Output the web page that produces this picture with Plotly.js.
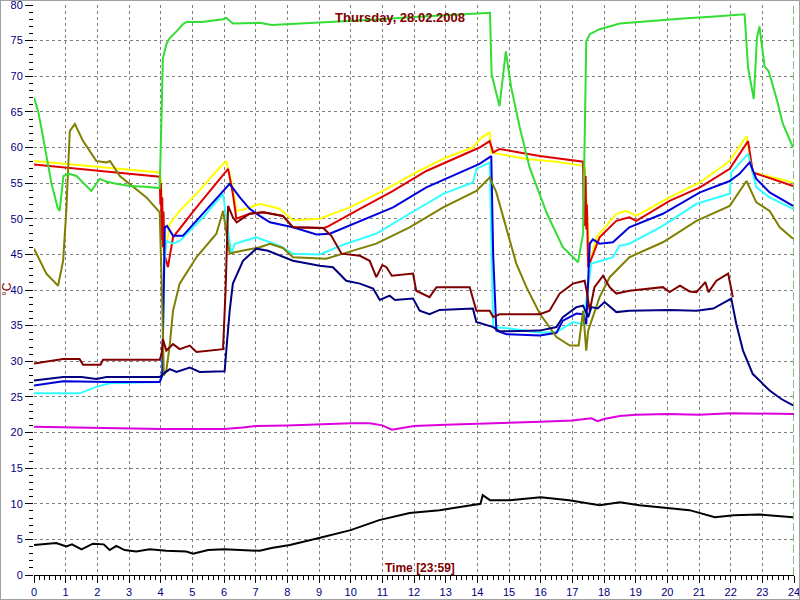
<!DOCTYPE html>
<html>
<head>
<meta charset="utf-8">
<script src="https://cdn.plot.ly/plotly-3.0.1.min.js"></script>
<style>
  html, body { margin: 0; padding: 0; background: #ffffff; }
  #wrap { position: relative; width: 800px; height: 600px; }
  #chart { width: 800px; height: 600px; }
  #frame { position: absolute; left: 0; top: 0; width: 798px; height: 598px; border: 1px solid #a0a0a0; pointer-events: none; }
</style>
</head>
<body>
<div id="wrap"><div id="chart"></div><div id="frame"></div></div>
<script>
// ---- chart texts ----
const chartTitle = 'Thursday, 28.02.2008';
const xTitle = 'Time [23:59]';
const yTitle = '°C';
const xTickVals = [0,1,2,3,4,5,6,7,8,9,10,11,12,13,14,15,16,17,18,19,20,21,22,23,24];
const yTickVals = [0,5,10,15,20,25,30,35,40,45,50,55,60,65,70,75,80];
const currentTime = 24;

// ---- series (time in hours, value in °C) ----
const yellowT = [0,1,2,3,3.97,4.02,4.05,4.12,4.29,4.6,5.13,5.76,6.07,6.28,6.39,6.7,7.13,7.76,8.18,9.02,9.97,11.02,12.07,13.02,13.86,14.13,14.39,14.44,14.7,15.55,16.5,17.34,17.39,17.55,17.76,18.39,18.7,19.02,20.07,21.03,21.97,22.5,22.7,23.97];
const yellowV = [58.1,57.7,57.3,56.9,56.5,55,47,44.6,49.3,51.1,53.5,56.7,58.1,54.4,51.1,51.4,52.1,51.4,49.8,50,51.6,53.9,56.5,58.6,60,61.4,62.1,59.3,59.1,58.4,58,57.5,57.4,43.7,47.4,50.7,51.1,50.4,53,55.1,58.1,61.6,56.5,55.1];

const redT = [0,1,2,3,3.97,3.99,4.01,4.03,4.05,4.07,4.09,4.12,4.23,4.39,5.13,5.76,6.13,6.28,6.39,6.81,7.24,7.86,8.18,9.13,9.23,10.29,11.34,12.39,13.44,14.07,14.39,14.44,14.5,14.7,15.97,17.34,17.36,17.38,17.4,17.42,17.44,17.46,17.5,17.86,18.39,18.8,19.02,20.07,21.03,21.97,22.55,22.7,23.97];
const redV = [57.6,57.2,56.8,56.3,55.9,52,55,47,53,46,51,45,43.2,47.4,51.6,55.1,57,53.5,50,50.7,50.9,50.4,48.8,48.7,48.8,51.4,53.9,56.7,58.8,60,60.9,60,59.3,59.8,58.8,58,50,57,49,56,48.5,52,43.2,47.4,49.7,50.2,49.7,52.5,54.4,57,60.9,56.5,54.6];

const cyanT = [0,1.44,1.97,2.39,3.97,4.05,4.12,4.18,4.39,4.6,5.34,5.97,6.07,6.23,6.34,7.02,7.45,7.76,8.18,9.02,9.86,10.81,11.86,12.92,13.86,13.97,14.39,14.5,15.02,15.97,16.5,16.81,17.02,17.34,17.6,17.76,18.28,18.49,18.8,19.86,20.92,21.97,22.02,22.55,22.81,23.23,23.97];
const cyanV = [25.5,25.5,26.4,26.9,27.1,28,44,46.9,46.5,46.9,50.2,53.5,50.2,45.1,46.5,47.4,46.7,46.2,45.1,45,46.5,47.9,50.7,53.5,55.1,57,57.9,34.8,34.6,34,34.1,35,35.5,35.2,43.7,43.9,44.6,46.2,46.5,49,52.1,53.5,56.5,59.1,54.4,53,51.4];

const blueT = [0,0.92,2.39,3.97,4.05,4.1,4.13,4.2,4.39,4.7,5.34,6.18,6.5,6.81,7.13,7.45,8.18,8.92,9.34,10.29,11.34,12.39,13.44,14.07,14.44,14.5,14.6,14.92,15.97,16.5,16.7,17.13,17.34,17.44,17.55,17.65,17.86,18.28,18.8,19.02,19.86,21.03,21.97,22.28,22.6,22.81,23.23,23.97];
const blueV = [26.6,27.2,27.1,27.1,28,40,48.8,49,47.6,47.6,50.7,54.9,53,51.4,50.4,49.5,48.8,47.8,47.9,49.7,51.6,54.4,56.5,57.7,58.8,45,34.3,33.8,33.6,34,35.7,36.7,36.6,35.2,46.5,47.1,46.5,46.7,48.8,49.2,50.7,53.7,55.3,56.3,57.9,55.6,53.7,51.8];

const oliveT = [0,0.39,0.76,0.92,1.02,1.13,1.29,1.55,1.97,2.29,2.4,2.71,3.55,3.97,4.05,4.1,4.18,4.29,4.39,4.6,5.13,5.76,5.97,6.18,6.34,7.13,7.45,7.86,8.18,9.23,9.76,10.81,11.86,12.92,13.97,14.39,14.6,14.92,15.23,15.55,15.97,16.5,16.92,17.2,17.34,17.44,17.5,17.86,18.18,18.8,19.86,20.92,21.97,22.5,22.81,23.23,23.55,23.97];
const oliveV = [45.8,42.3,40.6,44.1,51.1,62.3,63.3,60.9,58.1,57.9,58.1,56,53,50.9,38,28,28.7,32.4,37.1,40.9,44.6,47.9,51.1,45.1,45.3,46,46.5,45.9,44.6,44.4,45.1,46.5,48.8,51.6,53.9,55.8,53.7,48.8,43.7,40.4,36.7,33.4,32.2,32.2,37.1,31.5,34.3,39,41.8,44.6,46.7,49.7,51.8,55.3,52.3,51.1,48.8,47.2];

const maroonT = [0,0.92,1.44,1.55,2.1,2.18,3.97,4.03,4.07,4.18,4.39,4.6,4.92,5.13,5.97,6.05,6.13,6.28,6.4,6.81,7.24,7.86,8.18,9.13,9.39,9.71,10.29,10.6,10.81,11.0,11.13,11.3,11.97,12.07,12.49,12.71,13.76,13.97,14.39,14.5,14.7,15.97,16.28,16.6,17.02,17.39,17.45,17.55,17.7,17.97,18.18,18.39,18.8,19.86,20.07,20.4,20.7,20.92,21.2,21.3,21.55,21.92,22.07];
const maroonV = [29.7,30.3,30.3,29.5,29.5,30.2,30.2,31,33.1,31.5,32.4,31.7,32.2,31.3,31.7,40,51.8,50.2,49.5,50.7,50.9,50.4,48.8,48.7,47.6,45.1,44.8,44.1,41.8,43.5,43.2,42,42.3,39.9,39,40.4,40.4,37.1,37.1,36.2,36.6,36.6,37.1,39.5,40.9,41.3,39.9,37.1,40.4,42,40.4,39.5,39.9,40.4,39.7,40.6,39.8,39.7,41.1,39.7,41.3,42.3,39];

const navyT = [0,0.92,1.5,1.97,2.29,3.97,4.07,4.29,4.5,4.92,5.23,6.02,6.1,6.18,6.28,6.6,7.02,7.39,8.18,9.02,9.44,9.86,10.29,10.71,10.92,11.23,11.4,11.97,12.18,12.49,12.81,13.86,13.97,14.5,14.7,15.97,16.5,16.7,17.13,17.34,17.5,17.6,17.8,18.02,18.39,18.8,20.07,20.92,21.45,22.02,22.18,22.39,22.7,23.23,23.6,23.97];
const navyV = [27.3,27.8,27.8,27.5,27.8,27.8,28.2,28.9,28.5,29.1,28.5,28.6,33,37.1,40.9,44.1,45.8,45.5,44.1,43.4,43.2,41.3,40.9,40.2,38.6,39.2,38.6,38.8,37.1,36.6,37.2,37.4,35.5,34.8,34.2,34.3,34.8,36.2,37.6,37.8,36.2,37.6,37.4,38.3,36.9,37.1,37.2,37.1,37.4,38.8,35.2,31.5,28.2,25.9,24.7,23.8];

const magentaT = [0,1,2,3,4,5,6,6.6,7,8,9,10,10.6,11,11.3,11.6,12,13,14,15,16,17,17.6,17.8,18,18.5,19,20,21,22,23,24];
const magentaV = [20.8,20.7,20.6,20.6,20.5,20.5,20.5,20.7,20.9,21.0,21.2,21.3,21.3,21.0,20.4,20.6,20.9,21.1,21.2,21.3,21.5,21.7,22.0,21.6,21.9,22.3,22.5,22.6,22.5,22.7,22.6,22.6];

const blackT = [0,0.5,0.7,1.02,1.2,1.5,1.86,2.2,2.39,2.6,2.86,3.23,3.65,4.18,4.81,5.02,5.5,6.0,6.5,7.13,7.5,8.08,9.0,10.0,10.9,11.86,12.81,13.76,14.1,14.17,14.4,15.02,16.0,16.9,17.86,18.5,19.12,19.76,20.7,21.5,22.1,22.9,23.97];
const blackV = [4.2,4.4,4.5,4.0,4.3,3.6,4.4,4.3,3.5,4.1,3.5,3.3,3.6,3.4,3.3,3.0,3.5,3.6,3.5,3.4,3.8,4.2,5.2,6.3,7.7,8.7,9.1,9.7,10.0,11.2,10.5,10.5,10.9,10.5,9.8,10.2,9.8,9.5,9.1,8.1,8.4,8.5,8.1];

const greenT = [0,0.13,0.23,0.34,0.55,0.75,0.81,0.93,1.1,1.34,1.6,1.81,2.07,2.3,2.6,3.02,3.5,3.97,4.03,4.07,4.18,4.29,4.5,4.7,4.81,5.3,5.97,6.07,6.28,7.13,7.5,8.0,9.0,10.0,11.0,12.0,13.0,14.0,14.4,14.45,14.7,14.9,15.07,15.34,15.65,16.2,16.7,17.18,17.34,17.44,17.55,17.86,18.5,19.5,20.5,21.5,22.44,22.55,22.73,22.83,22.91,23.07,23.2,23.44,23.65,23.97];
const greenV = [67,65.1,62.8,60,55,51.5,51.1,56,56.3,56,54.8,53.9,55.6,55.2,54.9,54.6,54.5,54.3,65,72.5,74.5,75.4,76.3,77.3,77.6,77.6,78,78.2,77.4,77.5,77.2,77.3,77.6,77.8,78.0,78.3,78.5,78.8,78.9,70.3,65.8,73.5,68.4,62.8,57.2,50.7,46,43.9,47.9,74.9,75.9,76.6,77.4,77.8,78.1,78.4,78.7,71.2,66.8,75.4,77,71.4,70.7,67,63.3,60];

function line(t, v, color) {
  return { type: 'scatter', mode: 'lines', x: t, y: v, line: { color: color, width: 2 }, hoverinfo: 'skip', showlegend: false };
}

const traces = [
  line(yellowT, yellowV, '#ffff00'),
  line(redT, redV, '#e00000'),
  line(cyanT, cyanV, '#33ffff'),
  line(blueT, blueV, '#0000dd'),
  line(oliveT, oliveV, '#7f7f00'),
  line(maroonT, maroonV, '#800000'),
  line(navyT, navyV, '#000080'),
  line(magentaT, magentaV, '#dd00dd'),
  line(blackT, blackV, '#000000'),
  line(greenT, greenV, '#33dd33')
];

const fontFam = 'Liberation Sans, Arial, sans-serif';

const layout = {
  width: 800, height: 600,
  margin: { l: 34, r: 6, t: 5, b: 25, pad: 0 },
  paper_bgcolor: '#ffffff', plot_bgcolor: '#ffffff',
  showlegend: false,
  font: { family: fontFam, size: 11, color: '#000080' },
  title: {
    text: '<b>' + chartTitle + '</b>',
    font: { family: fontFam, size: 13, color: '#800000' },
    xref: 'container', yref: 'container', x: 0.5, y: 1 - 17/600,
    xanchor: 'center', yanchor: 'middle'
  },
  xaxis: {
    range: [0, 24], tickvals: xTickVals, ticktext: xTickVals.map(String),
    ticks: 'outside', ticklen: 7, tickcolor: '#000000', tickwidth: 1,
    ticklabeloverflow: 'allow',
    showline: true, linecolor: '#000000', linewidth: 1,
    showgrid: true, gridcolor: '#808080', griddash: '3px,3px', gridwidth: 1,
    zeroline: false,
    minor: { dtick: 1/6, ticklen: 4, tickcolor: '#000000', showgrid: false, ticks: 'outside' },
    tickfont: { family: fontFam, size: 11, color: '#000080' },
    fixedrange: true
  },
  yaxis: {
    range: [0, 80], tickvals: yTickVals, ticktext: yTickVals.map(String),
    ticks: 'outside', ticklen: 8, tickcolor: '#000000', tickwidth: 1,
    ticklabeloverflow: 'allow',
    showline: false, showgrid: true, gridcolor: '#808080', griddash: '3px,3px', gridwidth: 1,
    zeroline: false,
    minor: { dtick: 1, ticklen: 4, tickcolor: '#000000', showgrid: false, ticks: 'outside' },
    tickfont: { family: fontFam, size: 11, color: '#000080' },
    fixedrange: true
  },
  shapes: [
    { type: 'line', xref: 'x', yref: 'paper', x0: currentTime, x1: currentTime, y0: 0, y1: 1,
      line: { color: '#007f00', width: 1, dash: '8px,3px' } }
  ],
  annotations: [
    { text: '<b>' + xTitle + '</b>', xref: 'paper', yref: 'paper', x: (420-34)/760, y: (575-568)/570,
      xanchor: 'center', yanchor: 'middle', showarrow: false,
      font: { family: fontFam, size: 12, color: '#800000' } },
    { text: yTitle, xref: 'paper', yref: 'paper', x: (7-34)/760, y: (575-289)/570,
      xanchor: 'center', yanchor: 'middle', showarrow: false, textangle: -90,
      font: { family: fontFam, size: 12, color: '#800000' } }
  ]
};

Plotly.newPlot('chart', traces, layout, { staticPlot: true, displayModeBar: false });
</script>
</body>
</html>
